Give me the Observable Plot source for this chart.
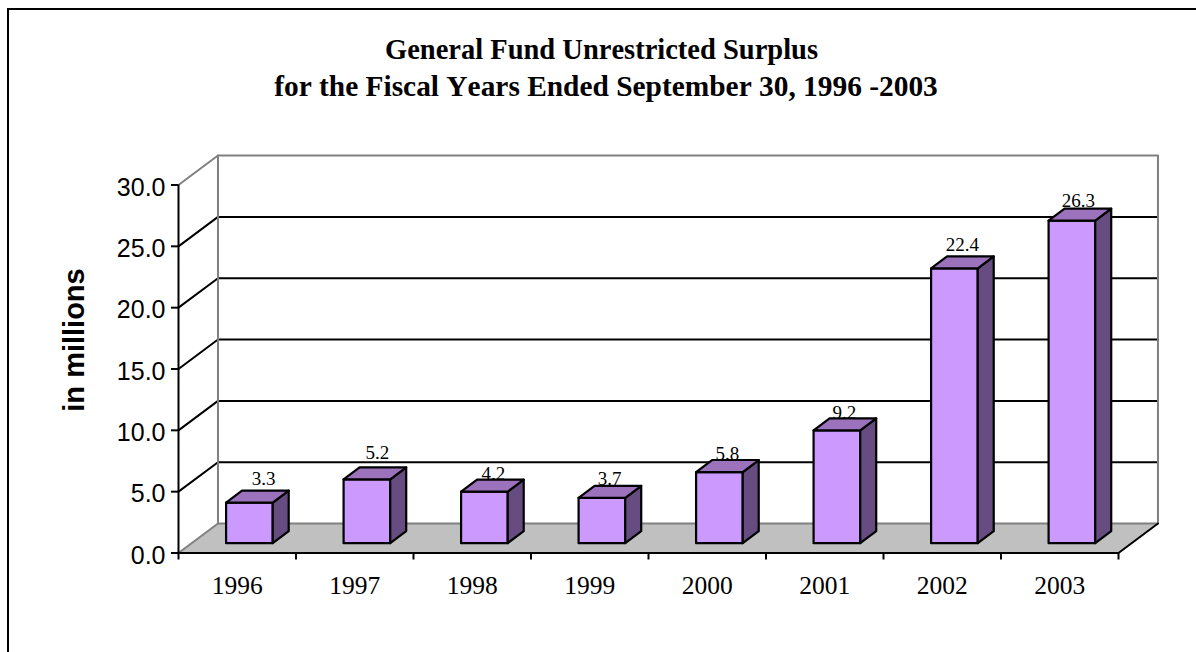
<!DOCTYPE html>
<html><head><meta charset="utf-8">
<script src="https://cdn.jsdelivr.net/npm/d3@7"></script>
<script src="https://cdn.jsdelivr.net/npm/@observablehq/plot@0.6"></script>
<style>
html,body{margin:0;padding:0;background:#fff;overflow:hidden}
#page{position:relative;width:1196px;height:652px;overflow:hidden;box-sizing:border-box}
#edge{position:absolute;left:7px;top:8px;right:-4px;bottom:-4px;border:2px solid #000;pointer-events:none}
#title{position:absolute;left:0;top:0;width:1208px;height:130px;text-align:center;font:bold 29px/36px "Liberation Serif",serif;font-kerning:none;color:#000;padding-top:31px;box-sizing:border-box}
#title span{position:relative;display:inline-block}
#chart{position:absolute;left:0;top:130px}
svg{display:block}
</style></head><body>
<div id="page"><div id="edge"></div>
<div id="title"><span style="left:-2.5px;font-size:28.5px">General Fund Unrestricted Surplus</span><br><span style="left:2px;font-size:29.4px">for the Fiscal Years Ended September 30, 1996 -2003</span></div>
<div id="chart"></div></div>
<script>
const years = ["1996","1997","1998","1999","2000","2001","2002","2003"];
const surplus = [3.3,5.2,4.2,3.7,5.8,9.2,22.4,26.3];
const yTicks = [0,5,10,15,20,25,30];
const yAxisTitle = "in millions";

// depth of the "3D" box, in scale units
const wallDx = 0.336, wallDy = 2.4;     // floor/back wall
const barLeft = 0.405, barW = 0.397;    // inside a category
const barLift = 0.8, barDx = 0.136, barDy = 0.98;
// nudges of the value labels, in pixels
const labelDx = [6.3,2.5,1,-0.2,0,-0.5,0,-1.5];
const labelDy = [-5.2,-7.9,0.3,-0.3,0.4,0.6,-5,-1.2];

const cats = years.map((y,i)=>({year:y,value:surplus[i],i}));
const poly = (id,pts)=>pts.map(([x,y])=>({id,x,y}));
const faces = (fn)=>cats.flatMap(fn);

const serif = "Liberation Serif", sans = "Liberation Sans";
const closed = {x:"x",y:"y",z:"id",curve:"linear-closed"};

const floor = poly("floor",[[0,0],[8,0],[8+wallDx,wallDy],[wallDx,wallDy]]);
const grid = yTicks.slice(1,-1).flatMap(v=>poly(v,[[0,v],[wallDx,v+wallDy],[8+wallDx,v+wallDy]]));
const wall = [...poly("a",[[0,30],[wallDx,30+wallDy],[8+wallDx,30+wallDy],[8+wallDx,wallDy],[wallDx,wallDy]]),
              ...poly("b",[[wallDx,30+wallDy],[wallDx,wallDy]]),
              ...poly("c",[[0,0],[wallDx,wallDy]])];
const rightEdge = poly("r",[[8,0],[8+wallDx,wallDy]]);

const front = faces(d=>{const l=d.i+barLeft,r=l+barW,b=barLift,t=b+d.value;
  return poly(d.i,[[l,b],[r,b],[r,t],[l,t]]);});
const side = faces(d=>{const r=d.i+barLeft+barW,b=barLift,t=b+d.value;
  return poly(d.i,[[r,b],[r+barDx,b+barDy],[r+barDx,t+barDy],[r,t]]);});
const top_ = faces(d=>{const l=d.i+barLeft,r=l+barW,t=barLift+d.value;
  return poly(d.i,[[l,t],[r,t],[r+barDx,t+barDy],[l+barDx,t+barDy]]);});

const plot = Plot.plot({
  width:1196,height:522,
  marginLeft:178,marginRight:78,marginTop:54.5,marginBottom:99.5,
  x:{type:"linear",domain:[0,8],axis:null},
  y:{domain:[0,30],axis:null},
  marks:[
    Plot.line(floor,{...closed,fill:"#c0c0c0",stroke:"none"}),
    Plot.line(grid,{x:"x",y:"y",z:"id",stroke:"#000",strokeWidth:2}),
    Plot.line(wall,{x:"x",y:"y",z:"id",stroke:"#808080",strokeWidth:2}),
    Plot.line(rightEdge,{x:"x",y:"y",z:"id",stroke:"#000",strokeWidth:2}),
    Plot.axisY({ticks:yTicks,tickFormat:()=>"",tickSize:7,stroke:"#000",strokeWidth:2,label:null}),
    Plot.axisY({ticks:yTicks,tickFormat:d3.format(".1f"),tickSize:0,tickPadding:13,dy:2.7,
      fontSize:25,fontFamily:sans,fill:"#000",label:null}),
    Plot.ruleX([0],{y1:0,y2:30,stroke:"#000",strokeWidth:2}),
    Plot.ruleY([0],{x1:0,x2:8,stroke:"#000",strokeWidth:2}),
    Plot.axisX({ticks:d3.range(0,9),tickFormat:()=>"",tickSize:7,stroke:"#000",strokeWidth:2,label:null}),
    Plot.text(cats,{x:d=>d.i+0.5,y:0,text:"year",dy:33,fontSize:25.5,fontFamily:serif,fill:"#000"}),
    Plot.text([yAxisTitle],{frameAnchor:"left",textAnchor:"middle",rotate:-90,dx:-104,dy:-29,fontSize:29,fontWeight:"bold",fontFamily:sans,fill:"#000"}),
    ...cats.map((d,k)=>Plot.text([d],{x:d=>d.i+barLeft+barW/2+barDx/2,y:d=>barLift+d.value+barDy,
      text:d=>d.value.toFixed(1),lineAnchor:"bottom",dx:labelDx[k],dy:labelDy[k],fontSize:19,fontFamily:serif,fill:"#000"})),
    Plot.line(front,{...closed,fill:"#cc99ff",stroke:"#000",strokeWidth:2.2}),
    Plot.line(side,{...closed,fill:"#664c80",stroke:"#000",strokeWidth:2.2}),
    Plot.line(top_,{...closed,fill:"#9c72bd",stroke:"#000",strokeWidth:2.2})
  ]
});
document.getElementById("chart").appendChild(plot);
</script>
</body></html>
